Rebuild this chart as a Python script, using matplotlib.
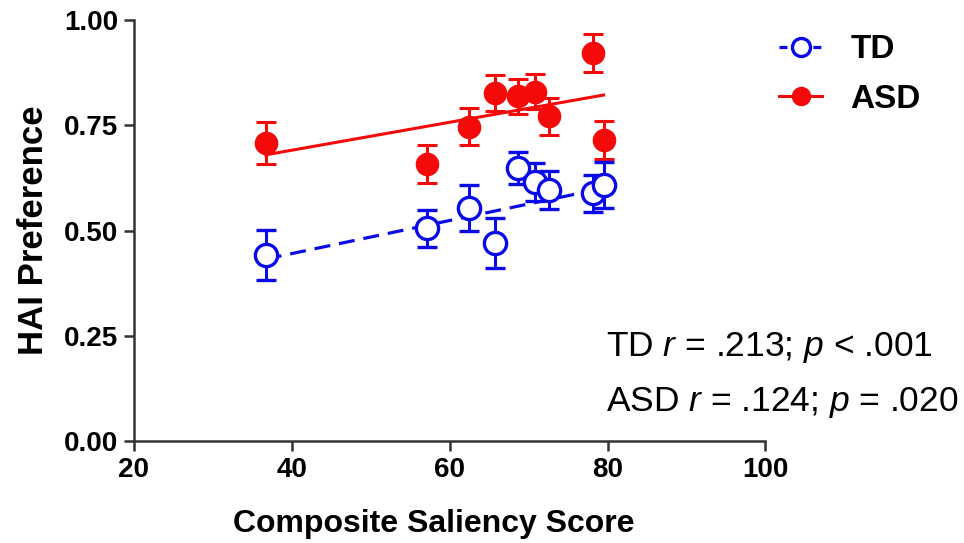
import numpy as np
import matplotlib
matplotlib.use("Agg")
import matplotlib.pyplot as plt
from matplotlib.lines import Line2D

plt.rcParams['font.family'] = ['Liberation Sans', 'DejaVu Sans']
plt.rcParams['mathtext.fontset'] = 'custom'
plt.rcParams['mathtext.rm'] = 'Liberation Sans'
plt.rcParams['mathtext.it'] = 'Liberation Sans:italic'

# composite saliency score per image (shared by both groups)
saliency = [36.7, 57.1, 62.4, 65.8, 68.6, 70.8, 72.6, 78.1, 79.5]

td_mean = [0.442, 0.505, 0.553, 0.470, 0.648, 0.616, 0.596, 0.588, 0.608]
td_sem = [0.060, 0.044, 0.055, 0.060, 0.038, 0.045, 0.045, 0.045, 0.055]

asd_mean = [0.709, 0.658, 0.747, 0.827, 0.819, 0.830, 0.772, 0.922, 0.715]
asd_sem = [0.050, 0.046, 0.044, 0.042, 0.042, 0.042, 0.044, 0.045, 0.045]

# regression fits (intercept, slope)
td_fit = (0.288, 0.00393)
asd_fit = (0.558, 0.00332)

blue = '#0a0ae8'
red = '#f50a0a'
dash = (0, (5, 2.8))

fig = plt.figure(figsize=(9.64, 5.43), dpi=100)
ax = fig.add_axes([0.139, 0.188, 0.655, 0.775])

x = np.array(saliency)
xf = np.array([x.min(), x.max()])

ax.plot(xf, asd_fit[0] + asd_fit[1] * xf, color=red, lw=2.2, zorder=2)
ax.plot(xf, td_fit[0] + td_fit[1] * xf, color=blue, lw=2.3, ls=dash, zorder=2)

ax.errorbar(x, asd_mean, yerr=asd_sem, fmt='o', color=red, ms=16,
            mec=red, mfc=red, elinewidth=2.2, capsize=7.5, capthick=2.2, zorder=3)
ax.errorbar(x, td_mean, yerr=td_sem, fmt='o', color=blue, ms=16,
            mec=blue, mfc='white', mew=2.4, elinewidth=2.2, capsize=7.5,
            capthick=2.2, zorder=4)

ax.set_xlim(20, 100)
ax.set_ylim(0, 1)
ax.set_xticks([20, 40, 60, 80, 100])
ax.set_yticks([0, 0.25, 0.5, 0.75, 1.0])
ax.set_yticklabels(['0.00', '0.25', '0.50', '0.75', '1.00'])

for s in ['top', 'right']:
    ax.spines[s].set_visible(False)
for s in ['left', 'bottom']:
    ax.spines[s].set_linewidth(1.8)
    ax.spines[s].set_color('#333333')
ax.tick_params(width=1.8, length=7, color='#333333', labelsize=20, pad=4.5)
for lab in ax.get_xticklabels() + ax.get_yticklabels():
    lab.set_fontweight('bold')

ax.set_xlabel('Composite Saliency Score', fontsize=23, fontweight='bold')
ax.xaxis.set_label_coords(0.475, -0.161)
ax.set_ylabel('HAI Preference', fontsize=25, fontweight='bold', labelpad=10)

handles = [
    Line2D([], [], color=blue, lw=2.3, ls=(0, (2.5, 2.8)), marker='o', ms=13,
           mfc='white', mec=blue, mew=2.4),
    Line2D([], [], color=red, lw=2.2, marker='o', ms=13, mfc=red, mec=red),
]
fig.legend(handles, ['TD', 'ASD'], loc='upper left', bbox_to_anchor=(0.808, 0.937),
           frameon=False, prop={'size': 24, 'weight': 'bold'}, handlelength=1.3,
           labelspacing=0.56, handletextpad=0.85, borderpad=0, borderaxespad=0)

ax.text(0.748, 0.221, r'TD $\it{r}$ = .213; $\it{p}$ < .001', transform=ax.transAxes,
        fontsize=25.5, va='center', ha='left')
ax.text(0.748, 0.091, r'ASD $\it{r}$ = .124; $\it{p}$ = .020', transform=ax.transAxes,
        fontsize=25.5, va='center', ha='left')

fig.savefig('out.png', dpi=100)
